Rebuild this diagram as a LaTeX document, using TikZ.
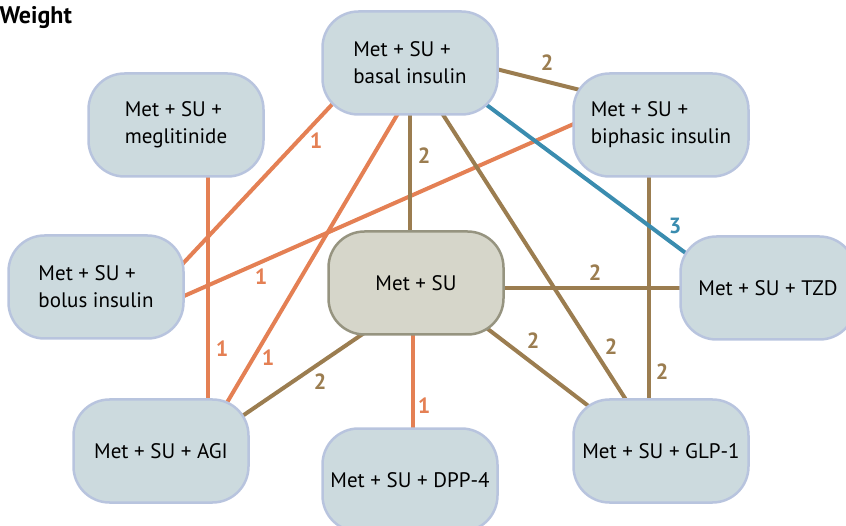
\documentclass[tikz,border=0pt]{standalone}
\usepackage{fontspec}
\setmainfont{PT Sans}
\usetikzlibrary{backgrounds}
\definecolor{salmon}{RGB}{228,128,84}
\definecolor{khaki}{RGB}{155,125,80}
\definecolor{steel}{RGB}{58,140,175}
\definecolor{boxfill}{RGB}{204,218,222}
\definecolor{boxline}{RGB}{184,196,222}
\definecolor{basefill}{RGB}{214,214,202}
\definecolor{baseedge}{RGB}{150,148,128}

\begin{document}
\begin{tikzpicture}[x=1pt, y=-1pt,
    drug/.style={rectangle, draw=boxline, fill=boxfill, line width=2.5pt, rounded corners=36pt, minimum width=175pt, minimum height=103pt, inner sep=0pt, align=left, font=\fontsize{21}{27}\selectfont},
    base/.style={drug, draw=baseedge, fill=basefill},
    edge/.style={line width=4pt},
    one/.style={edge, draw=salmon},
    two/.style={edge, draw=khaki},
    three/.style={edge, draw=steel},
    num/.style={font=\bfseries\fontsize{22}{22}\selectfont}]

\useasboundingbox (0,0) rectangle (846,526);

\node [font=\bfseries\fontsize{24}{24}\selectfont, anchor=west] (title) at (-4,18) {Weight};

% treatment boxes
\node [drug] (basal) at (410,63) {Met + SU +\\basal insulin};
\node [drug] (megl) at (176,125) {Met + SU +\\meglitinide};
\node [drug] (biph) at (661,125) {Met + SU +\\biphasic insulin};
\node [drug] (bolus) at (96,287) {Met + SU +\\bolus insulin};
\node [base] (metsu) at (416,283) {Met + SU};
\node [drug] (tzd) at (768,288) {Met + SU + TZD};
\node [drug] (agi) at (161,451) {Met + SU + AGI};
\node [drug] (dpp) at (410,480) {Met + SU + DPP-4};
\node [drug] (glp) at (661,451) {Met + SU + GLP-1};

% comparisons
\begin{pgfonlayer}{background}
\draw [one] ([shift={(32,45)}]megl.center) -- ([shift={(47,-41)}]agi.center);
\draw [one] ([shift={(-70,33)}]basal.center) -- ([shift={(79,-15)}]bolus.center);
\draw [one] ([shift={(-76,-6)}]biph.center) -- ([shift={(79,13)}]bolus.center);
\draw [one] ([shift={(-10,47)}]basal.center) -- ([shift={(61,-40)}]agi.center);
\draw [one] ([shift={(-3,40)}]metsu.center) -- ([shift={(3,-40)}]dpp.center);

\draw [two] ([shift={(80,4.5)}]basal.center) -- ([shift={(-71,-32.5)}]biph.center);
\draw [two] ([shift={(0,40)}]basal.center) -- ([shift={(-6,-40)}]metsu.center);
\draw [two] ([shift={(30,47)}]basal.center) -- ([shift={(-31,-45)}]glp.center);
\draw [two] ([shift={(80,5)}]metsu.center) -- ([shift={(-80,0)}]tzd.center);
\draw [two] ([shift={(64,40)}]metsu.center) -- ([shift={(-66,-40)}]glp.center);
\draw [two] ([shift={(-12,40)}]biph.center) -- ([shift={(-12,-40)}]glp.center);
\draw [two] ([shift={(-46,46)}]metsu.center) -- ([shift={(74,-30)}]agi.center);

\draw [three] ([shift={(70,37)}]basal.center) -- ([shift={(-73,-28)}]tzd.center);
\end{pgfonlayer}

% edge labels
\node [num, text=salmon] (n1) at (222,349) {1};
\node [num, text=salmon] (n2) at (316,141) {1};
\node [num, text=salmon] (n3) at (261,277) {1};
\node [num, text=salmon] (n4) at (268,358) {1};
\node [num, text=salmon] (n5) at (424,406) {1};
\node [num, text=khaki] (n6) at (547,63) {2};
\node [num, text=khaki] (n7) at (424,156) {2};
\node [num, text=khaki] (n8) at (611,347) {2};
\node [num, text=khaki] (n9) at (595,273) {2};
\node [num, text=khaki] (n10) at (533,341) {2};
\node [num, text=khaki] (n11) at (662,372) {2};
\node [num, text=khaki] (n12) at (320,382) {2};
\node [num, text=steel] (n13) at (675,226) {3};

\end{tikzpicture}
\end{document}
